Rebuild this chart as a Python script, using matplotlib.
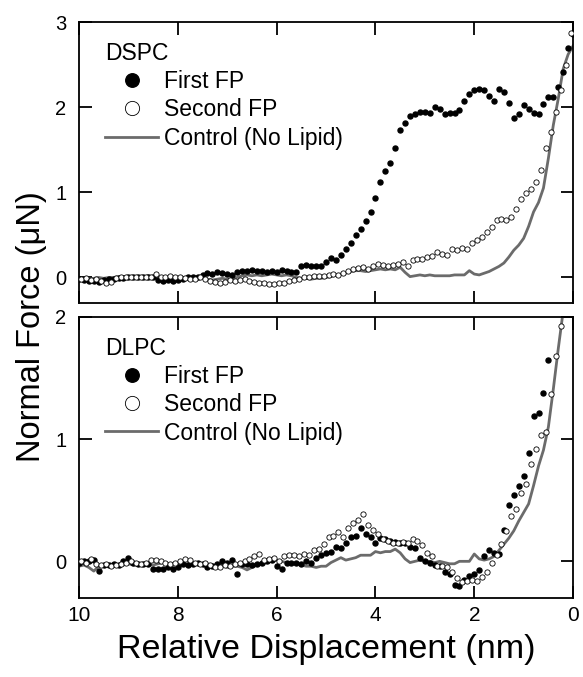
import numpy as np
import matplotlib
matplotlib.use("Agg")
import matplotlib.pyplot as plt

plt.rcParams["font.family"] = ["Liberation Sans", "DejaVu Sans"]

# ---- DSPC (top panel) ----
dspc_first_x = np.round(np.arange(10.0, -0.05, -0.1), 2)
dspc_first = [
    -0.02, -0.03, -0.04, -0.04, -0.05, -0.03, -0.02, -0.02, -0.01, -0.01,
    0.00, 0.01, 0.00, 0.01, 0.00, 0.01, -0.03, -0.04, -0.03, -0.04,
    -0.03, -0.02, 0.00, 0.01, 0.00, 0.03, 0.05, 0.04, 0.06, 0.05,
    0.04, 0.03, 0.06, 0.08, 0.08, 0.09, 0.08, 0.08, 0.07, 0.08,
    0.07, 0.09, 0.08, 0.07, 0.06, 0.14, 0.15, 0.13, 0.14, 0.13,
    0.18, 0.23, 0.20, 0.26, 0.34, 0.41, 0.50, 0.57, 0.66, 0.77,
    0.93, 1.12, 1.25, 1.35, 1.52, 1.73, 1.81, 1.90, 1.92, 1.94,
    1.94, 1.93, 2.00, 1.98, 1.92, 1.93, 1.93, 1.97, 2.07, 2.16,
    2.20, 2.21, 2.20, 2.13, 2.07, 2.21, 2.18, 2.05, 1.87, 1.92,
    2.02, 1.98, 1.93, 1.92, 2.04, 2.12, 2.12, 2.24, 2.41, 2.69,
    2.86,
]

dspc_second_x = np.round(np.arange(9.95, 0.0, -0.1), 2)
dspc_second = [
    -0.02, -0.01, -0.03, -0.02, -0.04, -0.06, -0.05, -0.01, 0.00, 0.01,
    0.00, 0.01, 0.00, 0.01, 0.00, 0.04, 0.01, 0.00, 0.02, 0.01,
    0.00, -0.01, -0.02, -0.02, 0.00, -0.02, -0.04, -0.05, -0.06, -0.05,
    -0.03, -0.04, -0.03, -0.02, -0.04, -0.05, -0.07, -0.06, -0.08, -0.08,
    -0.07, -0.06, -0.04, -0.03, -0.02, 0.00, 0.01, 0.02, 0.02, 0.02,
    0.03, 0.04, 0.03, 0.05, 0.08, 0.10, 0.11, 0.12, 0.10, 0.13,
    0.16, 0.15, 0.13, 0.15, 0.16, 0.18, 0.14, 0.20, 0.22, 0.22,
    0.24, 0.25, 0.30, 0.28, 0.26, 0.33, 0.32, 0.35, 0.34, 0.40,
    0.44, 0.48, 0.53, 0.59, 0.68, 0.69, 0.67, 0.71, 0.80, 0.92,
    0.99, 1.04, 1.12, 1.26, 1.52, 1.71, 1.94, 2.20, 2.49, 2.87,
]

dspc_ctrl_x = np.round(np.arange(10.0, -0.05, -0.1), 2)
dspc_ctrl = [
    -0.01, -0.02, -0.02, -0.01, 0.00, -0.01, 0.00, 0.00, 0.01, 0.01,
    0.00, 0.00, 0.01, 0.00, 0.02, 0.01, 0.00, -0.01, 0.00, 0.01,
    0.00, 0.00, -0.01, 0.00, 0.01, 0.00, -0.02, -0.03, -0.02, -0.01,
    -0.02, -0.01, 0.00, 0.02, 0.03, 0.02, 0.03, 0.02, 0.03, 0.04,
    0.03, 0.02, 0.03, 0.02, 0.00, -0.01, -0.01, -0.02, -0.01, -0.01,
    0.00, 0.01, 0.03, 0.04, 0.05, 0.07, 0.08, 0.08, 0.07, 0.08,
    0.09, 0.10, 0.09, 0.10, 0.09, 0.12, 0.06, 0.01, 0.02, 0.03,
    0.02, 0.03, 0.02, 0.02, 0.02, 0.02, 0.03, 0.03, 0.03, 0.08,
    0.04, 0.03, 0.05, 0.07, 0.10, 0.13, 0.17, 0.24, 0.32, 0.38,
    0.46, 0.60, 0.77, 0.88, 1.05, 1.40, 1.79, 2.10, 2.45, 2.62,
    2.72,
]

# ---- DLPC (bottom panel) ----
dlpc_first_x = np.round(np.arange(10.0, 0.45, -0.1), 2)
dlpc_first = [
    -0.01, 0.00, 0.00, 0.01, -0.08, -0.03, -0.03, -0.02, -0.03, 0.00,
    0.03, -0.01, -0.02, -0.02, -0.02, -0.06, -0.06, -0.06, -0.05, -0.06,
    -0.05, -0.02, -0.03, -0.02, -0.01, -0.02, -0.05, -0.04, -0.02, 0.00,
    -0.01, 0.01, -0.10, -0.02, -0.02, -0.03, -0.02, -0.01, 0.00, 0.01,
    -0.04, -0.06, -0.01, -0.01, -0.01, -0.02, 0.00, -0.01, 0.03, 0.05,
    0.07, 0.08, 0.12, 0.11, 0.15, 0.20, 0.21, 0.27, 0.22, 0.20,
    0.15, 0.19, 0.18, 0.17, 0.16, 0.15, 0.15, 0.12, 0.11, 0.03,
    0.00, -0.01, -0.03, -0.04, -0.09, -0.10, -0.19, -0.20, -0.15, -0.12,
    -0.10, -0.07, 0.04, 0.09, 0.07, 0.06, 0.26, 0.46, 0.54, 0.62,
    0.70, 0.89, 1.19, 1.21, 1.38, 1.65,
]

dlpc_second_x = np.round(np.arange(9.95, 0.2, -0.1), 2)
dlpc_second = [
    0.00, -0.01, 0.02, -0.02, -0.03, -0.02, -0.04, -0.03, -0.02, -0.01,
    0.00, -0.01, -0.02, -0.01, 0.01, 0.01, 0.00, -0.01, -0.02, -0.01,
    0.00, 0.02, 0.01, -0.01, -0.02, -0.01, -0.03, -0.05, -0.05, -0.03,
    -0.04, -0.02, -0.01, 0.00, 0.02, 0.04, 0.06, 0.01, 0.02, 0.03,
    0.00, 0.04, 0.05, 0.05, 0.04, 0.06, 0.05, 0.09, 0.10, 0.14,
    0.20, 0.21, 0.24, 0.20, 0.27, 0.31, 0.34, 0.39, 0.30, 0.26,
    0.22, 0.18, 0.17, 0.15, 0.15, 0.16, 0.15, 0.18, 0.17, 0.13,
    0.07, 0.04, -0.04, -0.04, -0.05, -0.09, -0.14, -0.17, -0.16, -0.15,
    -0.16, -0.13, -0.09, -0.01, 0.05, 0.14, 0.25, 0.37, 0.43, 0.56,
    0.63, 0.80, 0.92, 1.03, 1.06, 1.37, 1.68, 1.93,
]

dlpc_ctrl_x = np.round(np.arange(10.0, 0.15, -0.1), 2)
dlpc_ctrl = [
    -0.04, -0.03, -0.05, -0.08, -0.04, -0.03, -0.03, -0.02, -0.03, -0.03,
    -0.02, -0.03, -0.03, -0.02, -0.03, -0.03, -0.02, -0.01, -0.02, -0.02,
    -0.02, -0.03, -0.02, -0.02, -0.01, -0.02, -0.02, -0.03, -0.03, -0.03,
    -0.05, -0.04, -0.04, -0.05, -0.07, -0.05, -0.03, -0.02, -0.01, 0.00,
    0.01, 0.00, -0.01, -0.02, -0.02, -0.03, -0.04, -0.04, -0.05, -0.04,
    -0.04, -0.01, 0.01, 0.03, 0.01, 0.02, 0.03, 0.05, 0.05, 0.05,
    0.08, 0.07, 0.08, 0.08, 0.10, 0.07, 0.02, -0.01, 0.00, 0.01,
    0.00, 0.00, -0.01, 0.00, -0.01, -0.02, -0.02, 0.00, 0.00, 0.00,
    0.06, 0.02, 0.01, 0.02, 0.04, 0.09, 0.14, 0.19, 0.25, 0.33,
    0.40, 0.47, 0.62, 0.78, 0.91, 1.10, 1.41, 1.74, 2.05,
]

panels = [
    ("DSPC", (dspc_first_x, dspc_first), (dspc_second_x, dspc_second),
     (dspc_ctrl_x, dspc_ctrl), (-0.3, 3.0), [0, 1, 2, 3]),
    ("DLPC", (dlpc_first_x, dlpc_first), (dlpc_second_x, dlpc_second),
     (dlpc_ctrl_x, dlpc_ctrl), (-0.3, 2.0), [0, 1, 2]),
]

fig = plt.figure(figsize=(5.83, 6.77), dpi=100)
ax_top = fig.add_axes([0.1355, 0.5524, 0.8475, 0.4151])
ax_bot = fig.add_axes([0.1355, 0.1167, 0.8475, 0.4151])

ctrl_color = "#6b6b6b"

for ax, (name, first, second, ctrl, ylim, yticks) in zip([ax_top, ax_bot], panels):
    ax.plot(*ctrl, color=ctrl_color, lw=2.0, label="Control (No Lipid)", zorder=2)
    ax.plot(*first, ls="none", marker="o", ms=3.6, mfc="black", mec="black",
            label="First FP", zorder=3)
    ax.plot(*second, ls="none", marker="o", ms=3.8, mfc="white", mec="black",
            mew=0.6, label="Second FP", zorder=3)

    ax.set_xlim(10, 0)
    ax.set_ylim(*ylim)
    ax.set_xticks([10, 8, 6, 4, 2, 0])
    ax.set_yticks(yticks)
    ax.tick_params(direction="in", length=9, width=1.3, top=True, right=True)
    ax.tick_params(axis="x", labelsize=15, pad=6)
    ax.tick_params(axis="y", labelsize=14.5, pad=9)
    for s in ax.spines.values():
        s.set_linewidth(1.3)

    handles, labels = ax.get_legend_handles_labels()
    order = [1, 2, 0]
    ax.legend([handles[i] for i in order], [labels[i] for i in order],
              title=name, loc="upper left", bbox_to_anchor=(0.035, 0.96),
              frameon=False, fontsize=16.5, title_fontsize=16.5,
              markerscale=2.7, handlelength=2.3, handletextpad=0.25,
              labelspacing=0.22, alignment="left", borderaxespad=0.0)

ax_top.tick_params(labelbottom=False)

fig.text(0.028, 0.517, "Normal Force (μN)", fontsize=23.5, rotation=90,
         ha="left", va="center")
ax_bot.set_xlabel("Relative Displacement (nm)", fontsize=24.5, labelpad=6)

fig.savefig("out.png", dpi=100)
